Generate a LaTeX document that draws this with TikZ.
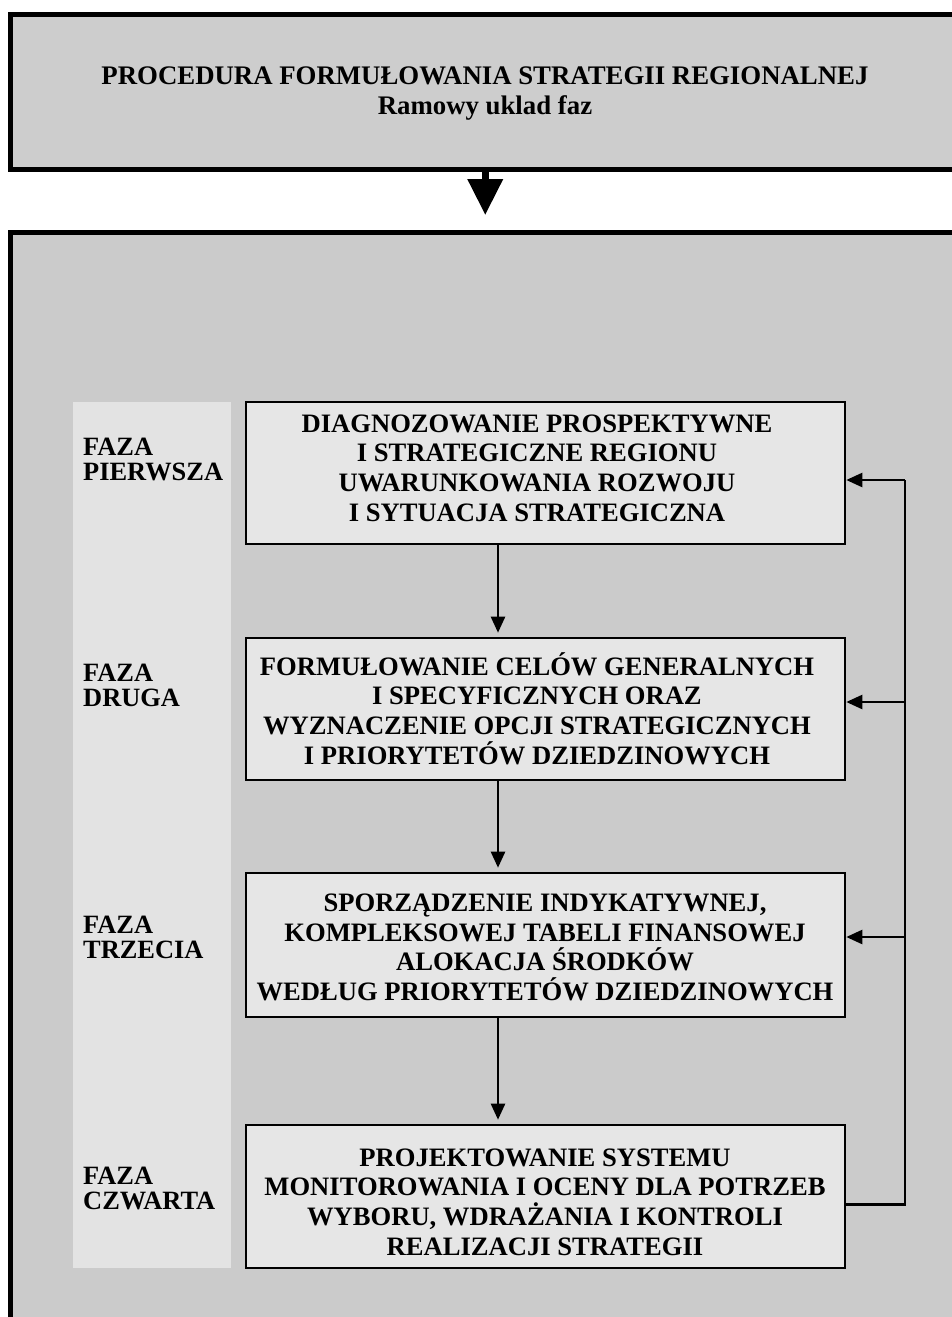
\documentclass[tikz,border=0pt]{standalone}
\usepackage{fontspec}
\setmainfont{Liberation Serif}
\usetikzlibrary{arrows.meta}
\definecolor{bggray}{HTML}{CBCBCB}
\definecolor{topgray}{HTML}{CDCDCD}
\definecolor{colgray}{HTML}{E3E3E3}
\definecolor{boxfill}{HTML}{E6E6E6}
\begin{document}
\begin{tikzpicture}[x=1pt,y=-1pt,
  txt/.style={font=\bfseries\fontsize{26.6}{29.6}\selectfont, align=center, inner sep=0pt},
  phasetxt/.style={font=\bfseries\fontsize{26.4}{25}\selectfont, align=left, inner sep=0pt, anchor=west},
  stepbox/.style={draw, line width=2.6pt, fill=boxfill, minimum width=599pt, minimum height=142pt, inner sep=0pt},
  flow/.style={line width=2.4pt, -{Triangle[length=16pt,width=14pt]}},
  bigbox/.style={draw, line width=5pt, inner sep=0pt}]
\useasboundingbox (0,0) rectangle (952,1317);
\fill[white] (0,0) rectangle (952,1317);
\clip (0,0) rectangle (952,1317);
% top box
\node[bigbox, fill=topgray, minimum width=949.5pt, minimum height=155pt] (top) at (485.25,92) {};
\node[txt, font=\bfseries\fontsize{26.8}{30}\selectfont] (title) at (485,94) {PROCEDURA FORMUŁOWANIA STRATEGII REGIONALNEJ\\Ramowy uklad faz};
% main box
\node[bigbox, fill=bggray, minimum width=949.5pt, minimum height=1110pt] (main) at (485.25,787.5) {};
\draw[line width=7pt, -{Triangle[length=36pt,width=34pt]}, shorten >=15pt] (top.south) -- (main.north);
% phase column
\fill[colgray] (73,402) rectangle (231,1268);
\node[phasetxt] (p1) at (83,459.5) {FAZA\\PIERWSZA};
\node[phasetxt] (p2) at (83,685.5) {FAZA\\DRUGA};
\node[phasetxt] (p3) at (83,937.5) {FAZA\\TRZECIA};
\node[phasetxt] (p4) at (83,1188.5) {FAZA\\CZWARTA};
% step boxes
\node[stepbox] (b1) at (545.5,473) {};
\node[txt] (t1) at (537,468) {DIAGNOZOWANIE PROSPEKTYWNE\\I STRATEGICZNE REGIONU\\UWARUNKOWANIA ROZWOJU\\I SYTUACJA STRATEGICZNA};
\node[stepbox] (b2) at (545.5,709) {};
\node[txt] (t2) at (537,708.5) {FORMUŁOWANIE CELÓW GENERALNYCH\\I SPECYFICZNYCH ORAZ\\WYZNACZENIE OPCJI STRATEGICZNYCH\\I PRIORYTETÓW DZIEDZINOWYCH};
\node[stepbox, minimum height=144pt] (b3) at (545.5,945) {};
\node[txt] (t3) at (545,947.5) {SPORZĄDZENIE INDYKATYWNEJ,\\KOMPLEKSOWEJ TABELI FINANSOWEJ\\ALOKACJA ŚRODKÓW\\WEDŁUG PRIORYTETÓW DZIEDZINOWYCH};
\node[stepbox, minimum height=143pt] (b4) at (545.5,1196.5) {};
\node[txt] (t4) at (545,1202) {PROJEKTOWANIE SYSTEMU\\MONITOROWANIA I OCENY DLA POTRZEB\\WYBORU, WDRAŻANIA I KONTROLI\\REALIZACJI STRATEGII};
% down arrows
\coordinate (ax) at (498,0);
\draw[flow] (b1.south -| ax) -- ([yshift=4pt]b2.north -| ax);
\draw[flow] (b2.south -| ax) -- ([yshift=4pt]b3.north -| ax);
\draw[flow] (b3.south -| ax) -- ([yshift=4pt]b4.north -| ax);
% feedback
\coordinate (fx) at (905,0);
\coordinate (e1) at ([yshift=-7pt]b1.east);
\coordinate (e2) at ([yshift=7pt]b2.east);
\coordinate (e3) at ([yshift=8pt]b3.east);
\coordinate (e4) at ([yshift=-8pt]b4.east);
\draw[line width=2.4pt] (e4) -| (fx |- e1);
\draw[flow] (fx |- e1) -- (e1);
\draw[flow] (fx |- e2) -- (e2);
\draw[flow] (fx |- e3) -- (e3);
\end{tikzpicture}
\end{document}
